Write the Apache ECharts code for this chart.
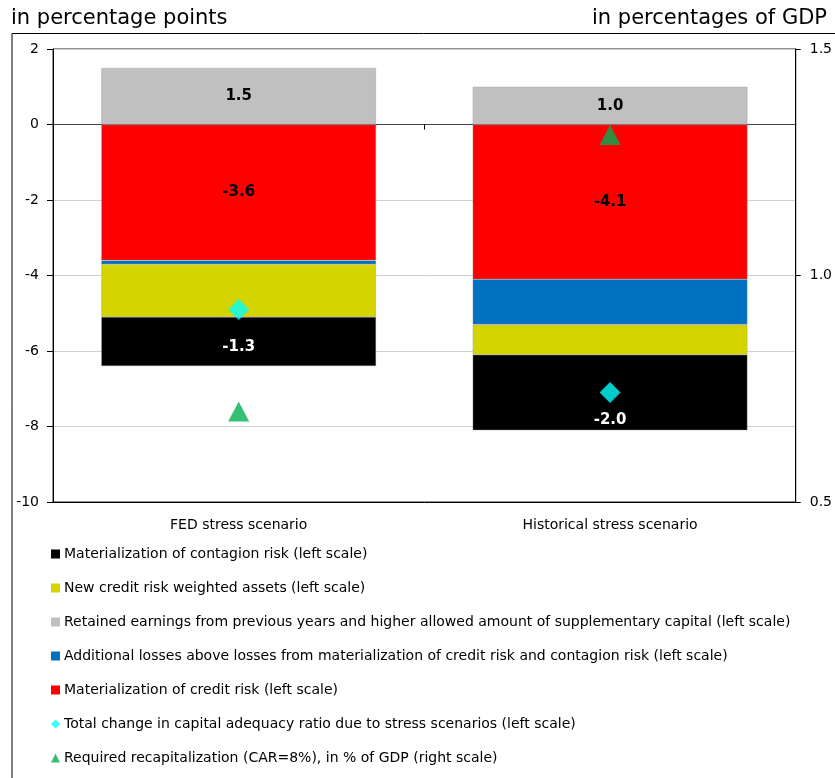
<!DOCTYPE html>
<html>
<head>
<meta charset="utf-8">
<script src="https://cdn.jsdelivr.net/npm/echarts@6/dist/echarts.min.js"></script>
<style>
html,body{margin:0;padding:0;background:#fff;}
#main{width:835px;height:778px;}
</style>
</head>
<body>
<div id="main"></div>
<script>
// ---- Data ----
const categories = ['FED stress scenario', 'Historical stress scenario'];
const creditRisk = [-3.6, -4.1];          // Materialization of credit risk
const additionalLosses = [-0.1, -1.2];    // Additional losses
const newRWA = [-1.4, -0.8];              // New credit risk weighted assets
const contagionRisk = [-1.3, -2.0];       // Materialization of contagion risk
const retainedEarnings = [1.5, 1.0];      // Retained earnings
const totalChange = [-4.9, -7.1];         // Total change in CAR (left)
const recapitalization = [0.70, 1.31];    // Required recapitalization (right)
const leftTicks = { min: -10, max: 2, interval: 2 };
const rightTicks = { min: 0.5, max: 1.5, interval: 0.5 };

const names = {
  contagion: 'Materialization of contagion risk (left scale)',
  rwa: 'New credit risk weighted assets (left scale)',
  retained: 'Retained earnings from previous years and higher allowed amount of supplementary capital (left scale)',
  additional: 'Additional losses above losses from materialization of credit risk and contagion risk (left scale)',
  credit: 'Materialization of credit risk (left scale)',
  total: 'Total change in capital adequacy ratio due to stress scenarios (left scale)',
  recap: 'Required recapitalization (CAR=8%), in % of GDP (right scale)'
};

const FONT = 'DejaVu Sans';
const chart = echarts.init(document.getElementById('main'), null, { renderer: 'canvas' });

const barBase = {
  type: 'bar', stack: 'total', barWidth: '74%',
  itemStyle: { borderColor: 'rgba(150,150,150,0.6)', borderWidth: 0.6 }
};
const lbl = (color) => ({
  show: true, color: color, fontFamily: FONT, fontWeight: 'bold', fontSize: 15,
  formatter: p => p.value.toFixed(1)
});

const contagionData = contagionRisk.map((v, i) => ({
  value: v,
  label: i === 0 ? { position: 'inside', offset: [0, 6] } : { position: 'insideBottom', distance: 3 }
}));

const option = {
  animation: false,
  backgroundColor: '#fff',
  title: [
    { text: 'in percentage points', left: 6, top: 3, textStyle: { fontFamily: FONT, fontSize: 21, fontWeight: 'normal', color: '#000' } },
    { text: 'in percentages of GDP', right: 3, top: 3, textStyle: { fontFamily: FONT, fontSize: 21, fontWeight: 'normal', color: '#000' } }
  ],
  graphic: [
    { type: 'polyline', shape: { points: [[12, 778], [12, 33.5], [835, 33.5]] }, style: { stroke: '#000', lineWidth: 1, fill: null } }
  ],
  grid: { left: 53, right: 39, top: 49, bottom: 276, show: true, borderColor: '#222', borderWidth: 1 },
  legend: {
    orient: 'vertical', left: 46, top: 541,
    itemWidth: 9, itemHeight: 9, itemGap: 18,
    itemStyle: { borderWidth: 0 },
    textStyle: { fontFamily: FONT, fontSize: 14, color: '#000', lineHeight: 16, padding: [0, 0, 0, -1] },
    data: [
      { name: names.contagion, icon: 'rect' },
      { name: names.rwa, icon: 'rect' },
      { name: names.retained, icon: 'rect' },
      { name: names.additional, icon: 'rect' },
      { name: names.credit, icon: 'rect' },
      { name: names.total, icon: 'diamond' },
      { name: names.recap, icon: 'triangle' }
    ]
  },
  xAxis: [
    {
      type: 'category', data: categories, position: 'bottom',
      axisLine: { onZero: false, lineStyle: { color: '#000' } },
      axisTick: { show: false },
      axisLabel: { fontFamily: FONT, fontSize: 14, color: '#000', margin: 16 }
    },
    {
      type: 'category', data: categories, position: 'top',
      axisLine: { onZero: true, lineStyle: { color: '#444' } },
      axisTick: { show: true, inside: true, length: 5, lineStyle: { color: '#000' } },
      axisLabel: { show: false }
    }
  ],
  yAxis: [
    {
      type: 'value', min: leftTicks.min, max: leftTicks.max, interval: leftTicks.interval,
      axisLine: { show: true, lineStyle: { color: '#000' } },
      axisTick: { show: true, length: 6, lineStyle: { color: '#000' } },
      axisLabel: { fontFamily: FONT, fontSize: 14, color: '#000', margin: 14 },
      splitLine: { lineStyle: { color: '#d0d0d0' } }
    },
    {
      type: 'value', min: rightTicks.min, max: rightTicks.max, interval: rightTicks.interval,
      axisLine: { show: true, lineStyle: { color: '#000' } },
      axisTick: { show: true, length: 5, lineStyle: { color: '#000' } },
      axisLabel: { fontFamily: FONT, fontSize: 14, color: '#000', margin: 14, formatter: v => v.toFixed(1) },
      splitLine: { show: false }
    }
  ],
  series: [
    Object.assign({}, barBase, { name: names.credit, data: creditRisk, itemStyle: Object.assign({}, barBase.itemStyle, { color: '#FF0000' }), label: lbl('#000') }),
    Object.assign({}, barBase, { name: names.additional, data: additionalLosses, itemStyle: Object.assign({}, barBase.itemStyle, { color: '#0070C0' }) }),
    Object.assign({}, barBase, { name: names.rwa, data: newRWA, itemStyle: Object.assign({}, barBase.itemStyle, { color: '#D4D400' }) }),
    Object.assign({}, barBase, { name: names.contagion, data: contagionData, itemStyle: Object.assign({}, barBase.itemStyle, { color: '#000000' }), label: lbl('#fff') }),
    Object.assign({}, barBase, { name: names.retained, data: retainedEarnings, itemStyle: Object.assign({}, barBase.itemStyle, { color: '#C0C0C0' }), label: lbl('#000') }),
    {
      name: names.total, type: 'scatter', data: totalChange, symbol: 'diamond', symbolSize: [21, 21],
      itemStyle: { color: '#00FFFF' }, z: 5
    },
    {
      name: names.recap, type: 'scatter', yAxisIndex: 1, data: recapitalization, symbol: 'triangle', symbolSize: [21, 20],
      itemStyle: { color: '#00B050' }, z: 5
    }
  ]
};
chart.setOption(option);
</script>
</body>
</html>
